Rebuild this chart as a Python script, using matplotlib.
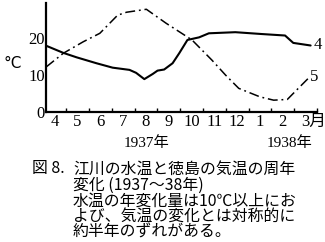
import matplotlib
matplotlib.use("Agg")
import matplotlib.pyplot as plt

# months counted from start of April 1937 (month i spans i..i+1)
water_m = [0.1, 0.88, 1.46, 2.33, 3.04, 3.78, 4.07, 4.43, 4.8, 5.01, 5.3, 5.67, 5.96,
           6.32, 6.83, 7.26, 8.42, 9.58, 10.6, 10.96, 11.72]
water_t = [18.0, 16.0, 14.8, 13.2, 12.0, 11.4, 10.6, 8.9, 10.3, 11.2, 11.5, 13.2, 15.9,
           19.5, 20.2, 21.3, 21.6, 21.1, 20.7, 18.7, 18.0]

air_m = [0.13, 0.88, 1.75, 2.48, 3.26, 3.65, 4.52, 5.39, 6.52, 7.4, 7.99, 8.57,
         9.5, 10.1, 10.7, 11.1, 11.6]
air_t = [12.2, 15.9, 19.0, 21.3, 26.2, 27.0, 27.8, 24.0, 19.5, 14.0, 10.0, 6.4,
         4.1, 3.2, 3.4, 5.9, 9.0]

month_labels = ['4', '5', '6', '7', '8', '9', '10', '11', '12', '1', '2', '3月']
year_labels = ['1937年', '1938年']
caption = ['江川の水温と徳島の気温の周年',
           '変化 (1937〜38年)',
           '水温の年変化量は10℃以上にお',
           'よび、気温の変化とは対称的に',
           '約半年のずれがある。']

serif = ['Liberation Serif', 'Noto Sans CJK JP']
cjk = ['Noto Sans CJK JP', 'DejaVu Sans']

fig = plt.figure(figsize=(3.25, 2.42), dpi=100)
ax = fig.add_axes([46 / 325, 1 - 112 / 242, 271 / 325, 109 / 242])

ax.plot(water_m, water_t, color='black', lw=1.5, solid_capstyle='round')
ax.plot(air_m, air_t, color='black', lw=1.1, linestyle=(0, (6.5, 2.5, 1.2, 2.5)))

ax.set_xlim(0.12, 12)
ax.set_ylim(0, 29.5)
for s in ['top', 'right']:
    ax.spines[s].set_visible(False)
for s in ['left', 'bottom']:
    ax.spines[s].set_linewidth(1.6)

ax.set_xticks(range(1, 13))
ax.set_xticklabels([])
ax.tick_params(axis='x', which='major', direction='in', length=3, width=1)
pos = [i + 0.5 for i in range(11)] + [11.3]
ax.set_xticks(pos, minor=True)
ax.set_xticklabels(month_labels, minor=True, family=serif, fontsize=12)
ax.tick_params(axis='x', which='minor', length=0, pad=1.5)
ax.get_xticklabels(minor=True)[-1].set_horizontalalignment('left')

ax.set_yticks([0, 10, 20])
ax.set_yticklabels(['0', '10', '20'], family=serif, fontsize=12)
ax.tick_params(axis='y', length=0, pad=1)

ax.text(12.05, 18.1, '4', family=serif, fontsize=12, ha='center', va='center', clip_on=False)
ax.text(11.87, 9.6, '5', family=serif, fontsize=12, ha='center', va='center', clip_on=False)

fig.text(13 / 325, 1 - 64 / 242, '°C', fontsize=11, family='DejaVu Sans',
         ha='center', va='center')

fig.text(147 / 325, 1 - 143 / 242, year_labels[0], family=serif, fontsize=11,
         ha='center', va='center')
fig.text(290 / 325, 1 - 143 / 242, year_labels[1], family=serif, fontsize=11,
         ha='center', va='center')

fig.text(32 / 325, 1 - 169 / 242, '図 8.', family=cjk, fontsize=11.4, ha='left', va='center')
fig.text(73 / 325, 1 - 161 / 242, '\n'.join(caption), family=cjk, fontsize=11.4,
         ha='left', va='top', linespacing=0.9)

fig.savefig('out.png', dpi=100)
